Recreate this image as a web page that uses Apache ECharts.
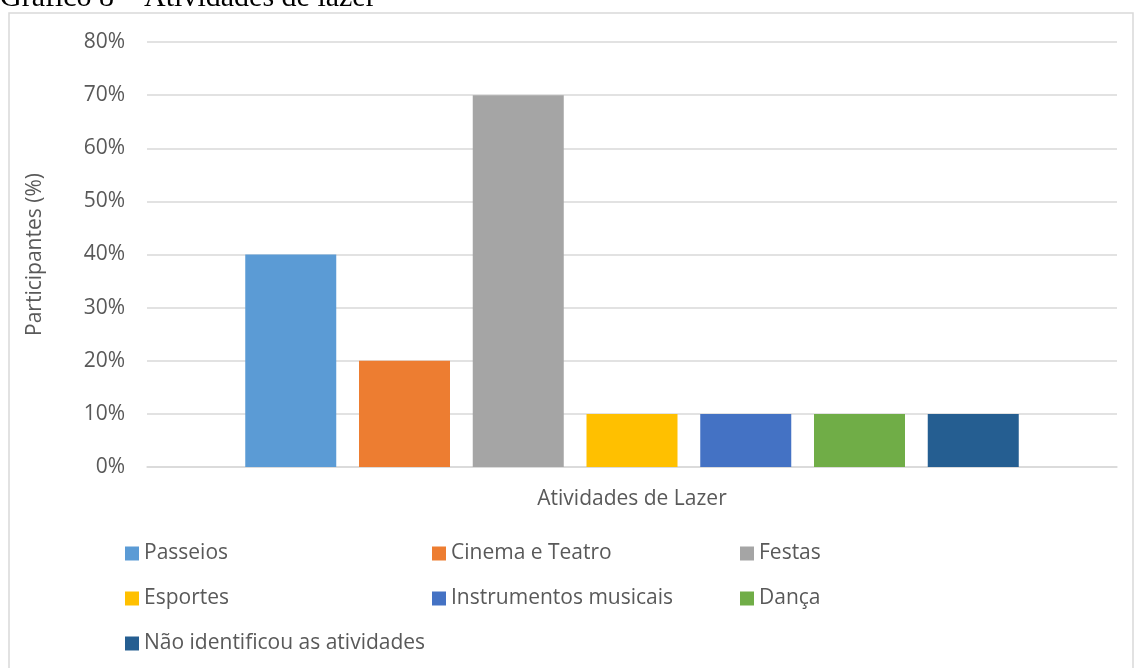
<!DOCTYPE html>
<html>
<head>
<meta charset="utf-8">
<script src="https://cdn.jsdelivr.net/npm/echarts@6/dist/echarts.min.js"></script>
<style>
html,body{margin:0;padding:0;background:#fff;}
#chart{width:1134px;height:668px;}
</style>
</head>
<body>
<div id="chart"></div>
<script>
const categories = ['Atividades de Lazer'];
const seriesNames = ['Passeios', 'Cinema e Teatro', 'Festas', 'Esportes', 'Instrumentos musicais', 'Dança', 'Não identificou as atividades'];
const seriesValues = [0.40, 0.20, 0.70, 0.10, 0.10, 0.10, 0.10];
const yTicks = { min: 0, max: 0.8, interval: 0.1 };
const palette = ['#5B9BD5', '#ED7D31', '#A5A5A5', '#FFC000', '#4472C4', '#70AD47', '#255E91'];

const FONT = 'Open Sans';
const TXT = '#595959';
const FS = 21;

const chart = echarts.init(document.getElementById('chart'));

const legendBase = {
  orient: 'vertical',
  icon: 'rect',
  itemWidth: 14,
  itemHeight: 14,
  itemGap: 24,
  selectedMode: false,
  textStyle: { fontFamily: FONT, fontSize: FS, color: TXT, lineHeight: 21 }
};

const option = {
  animation: false,
  color: palette,
  graphic: [
    {
      type: 'text', left: 0, top: -17,
      style: { text: 'Gráfico 8 – Atividades de lazer', fontFamily: 'Liberation Serif', fontSize: 30, fill: '#000' }
    },
    {
      type: 'rect', shape: { x: 9, y: 13, width: 1124, height: 700 },
      style: { fill: 'none', stroke: '#d9d9d9', lineWidth: 1.5 }, z: -1
    }
  ],
  grid: { left: 147, right: 17, top: 42, bottom: 201 },
  legend: [
    Object.assign({}, legendBase, { left: 120, top: 538, data: [seriesNames[0], seriesNames[3], seriesNames[6]] }),
    Object.assign({}, legendBase, { left: 427, top: 538, data: [seriesNames[1], seriesNames[4]] }),
    Object.assign({}, legendBase, { left: 735, top: 538, data: [seriesNames[2], seriesNames[5]] })
  ],
  xAxis: {
    type: 'category',
    data: categories,
    axisLine: { lineStyle: { color: '#d9d9d9', width: 1.5 } },
    axisTick: { show: false },
    axisLabel: { fontFamily: FONT, fontSize: FS, color: TXT, margin: 22 }
  },
  yAxis: {
    type: 'value',
    min: yTicks.min, max: yTicks.max, interval: yTicks.interval,
    name: 'Participantes (%)',
    nameLocation: 'middle',
    nameGap: 101,
    nameTextStyle: { fontFamily: FONT, fontSize: FS, color: TXT },
    axisLine: { show: false },
    axisTick: { show: false },
    axisLabel: {
      fontFamily: FONT, fontSize: FS, color: TXT, margin: 22,
      formatter: v => Math.round(v * 100) + '%'
    },
    splitLine: { lineStyle: { color: '#d9d9d9', width: 1.5 } }
  },
  series: seriesNames.map((name, i) => ({
    name: name,
    type: 'bar',
    barWidth: 91,
    barGap: '25%',
    data: [seriesValues[i]]
  }))
};
chart.setOption(option);
</script>
</body>
</html>
